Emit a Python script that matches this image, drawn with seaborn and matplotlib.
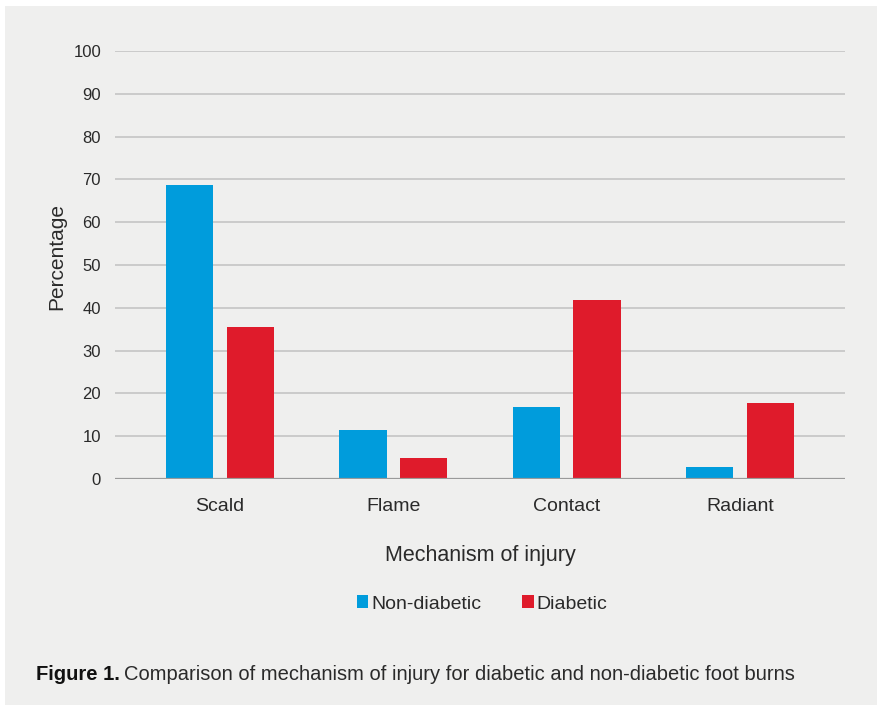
import matplotlib
matplotlib.use("Agg")
import matplotlib.pyplot as plt
from matplotlib.patches import Rectangle
import seaborn as sns
import pandas as pd

# Data
mechanisms = ["Scald", "Flame", "Contact", "Radiant"]
non_diabetic = [68.7, 11.5, 16.8, 2.8]
diabetic = [35.5, 4.8, 41.9, 17.8]
groups = ["Non-diabetic", "Diabetic"]
y_ticks = [0, 10, 20, 30, 40, 50, 60, 70, 80, 90, 100]

df = pd.DataFrame({
    "Mechanism": mechanisms * 2,
    "Group": [groups[0]] * len(mechanisms) + [groups[1]] * len(mechanisms),
    "Percentage": non_diabetic + diabetic,
})

sns.set_theme(style="white")
plt.rcParams["font.family"] = ["Liberation Sans", "DejaVu Sans"]

BG = "#efefee"
BLUE = "#009cdc"
RED = "#df1b2b"
TEXT = "#2a2a2a"

W, H = 879, 705
fig = plt.figure(figsize=(W / 100, H / 100), dpi=100)
fig.patch.set_facecolor("white")
fig.patches.append(Rectangle((5 / W, 0), (877 - 5) / W, (705 - 6) / H,
                             transform=fig.transFigure, facecolor=BG,
                             edgecolor="none", zorder=-10))

ax = fig.add_axes([115 / W, (H - 479) / H, 730 / W, 428 / H])
ax.set_facecolor(BG)
ax.patch.set_alpha(0)

sns.barplot(data=df, x="Mechanism", y="Percentage", hue="Group",
            order=mechanisms, hue_order=groups,
            palette=[BLUE, RED], saturation=1, width=0.7, gap=0.22,
            linewidth=0, ax=ax, legend=False, zorder=3)

ax.set_xlim(-0.605, 3.605)
ax.set_ylim(0, 100)
ax.set_yticks(y_ticks)
ax.yaxis.grid(True, color="#c4c4c4", linewidth=1.2, zorder=0)
ax.axhline(0, color="#9a9a9a", linewidth=1.6, zorder=4)
for s in ax.spines.values():
    s.set_visible(False)

ax.tick_params(axis="y", length=0, pad=10, labelsize=12, labelcolor=TEXT)
ax.tick_params(axis="x", length=0, pad=14, labelsize=14, labelcolor=TEXT)
ax.set_xlabel("Mechanism of injury", fontsize=15.5, color=TEXT, labelpad=21)
ax.set_ylabel("Percentage", fontsize=15, color=TEXT)
ax.yaxis.set_label_coords(-0.067, 0.52)

# Legend
handles = [Rectangle((0, 0), 1, 1, facecolor=c, edgecolor="none") for c in (BLUE, RED)]
fig.legend(handles, groups, loc="center", bbox_to_anchor=(482 / W, 1 - 604 / H),
           ncol=2, frameon=False, fontsize=14, handlelength=0.6, handleheight=0.6,
           handletextpad=0.15, columnspacing=2.1, labelcolor=TEXT)

# Caption
fig.text(36 / W, 1 - 674 / H, "Figure 1.", fontsize=14.5, fontweight="bold",
         color="#111111", va="center", ha="left")
fig.text(124 / W, 1 - 674 / H,
         "Comparison of mechanism of injury for diabetic and non-diabetic foot burns",
         fontsize=14.5, color=TEXT, va="center", ha="left")

fig.savefig("out.png", dpi=100, facecolor=fig.get_facecolor())
